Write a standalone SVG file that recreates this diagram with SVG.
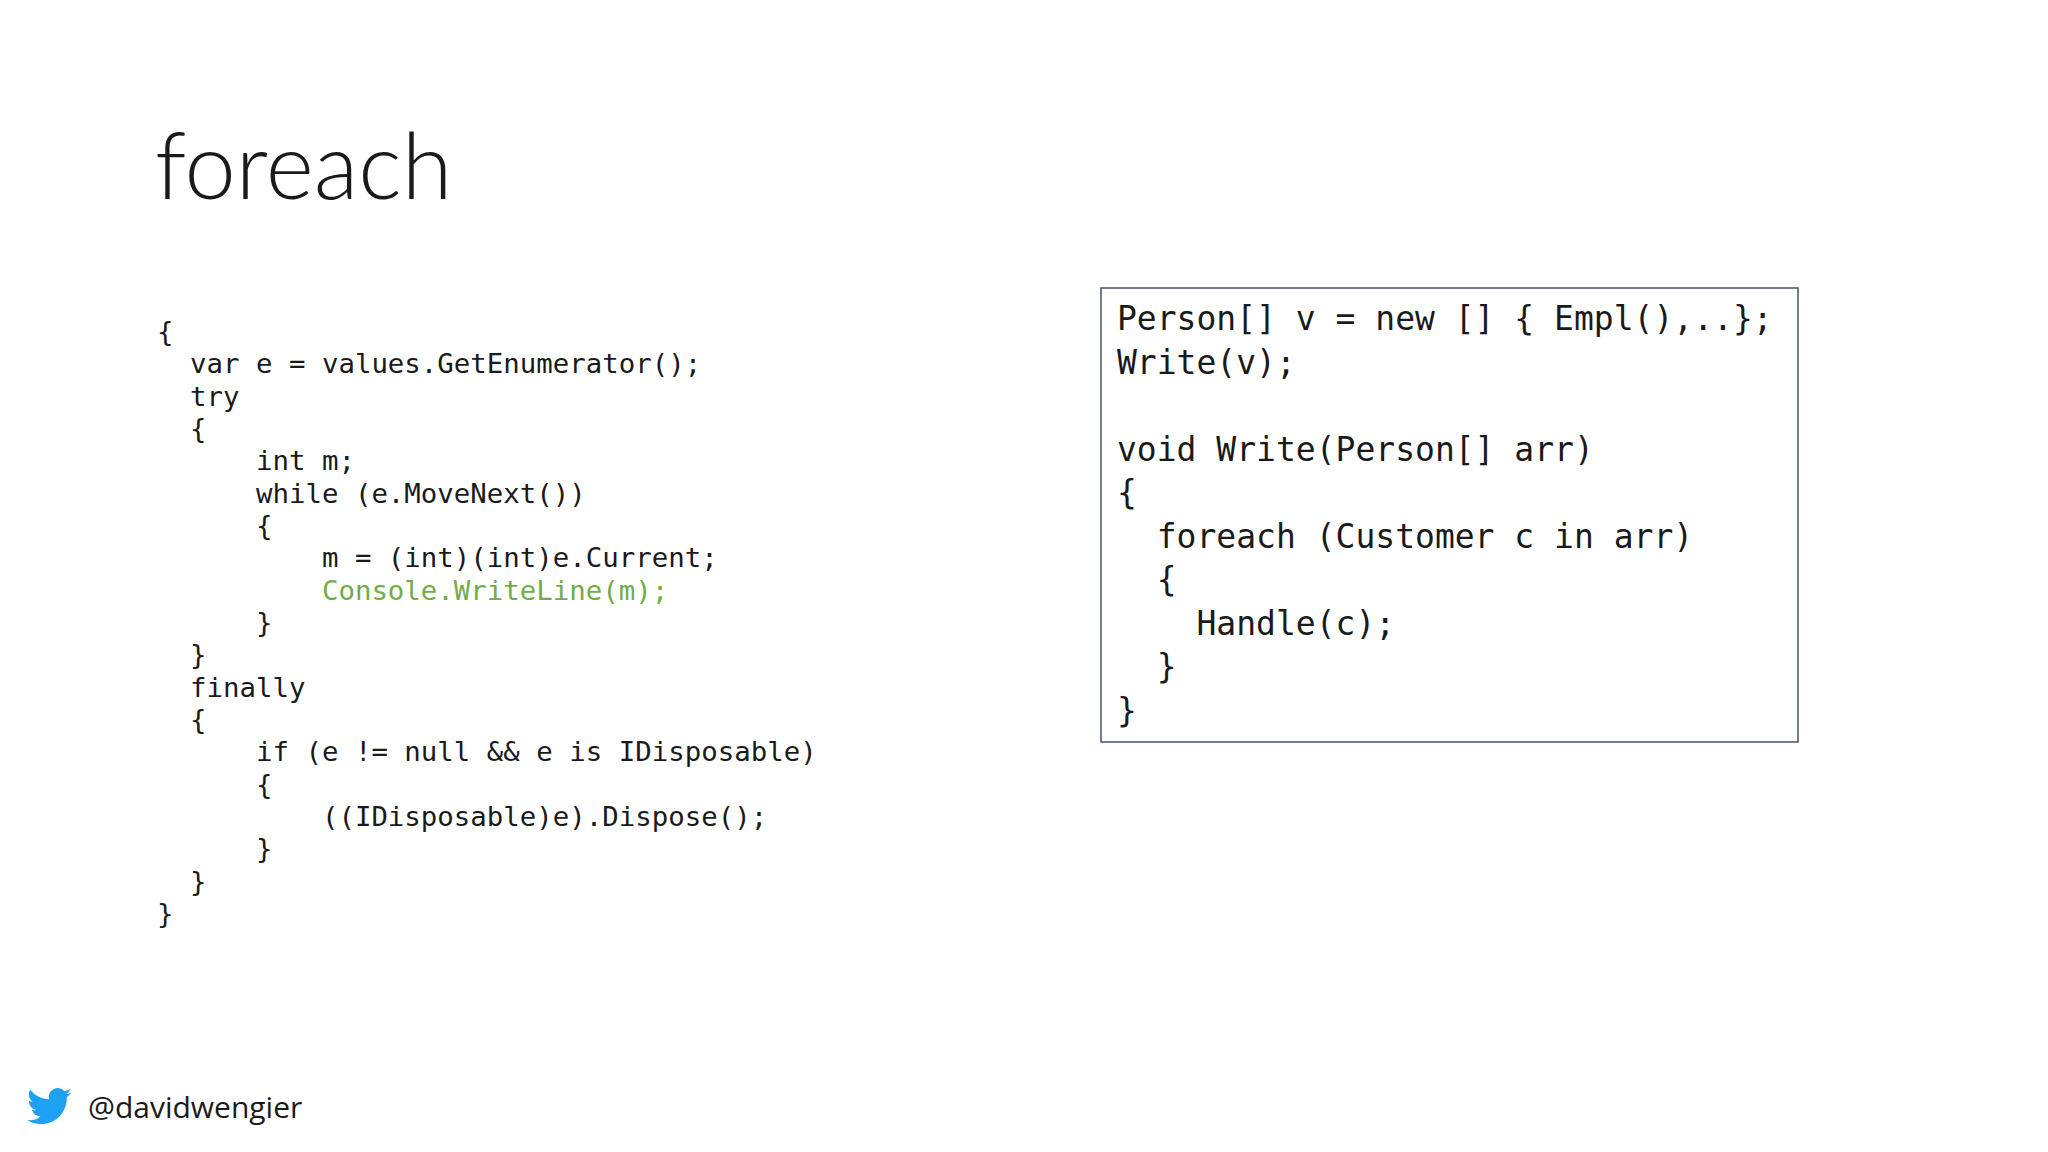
<svg xmlns="http://www.w3.org/2000/svg" width="2048" height="1152" viewBox="0 0 2048 1152">
<style>
.c{font-family:"DejaVu Sans Mono","Liberation Mono",monospace;font-size:27.4px;fill:#1a1a1a;white-space:pre}
.r{font-family:"DejaVu Sans Mono","Liberation Mono",monospace;font-size:33px;fill:#1a1a1a;white-space:pre}
</style>
<rect width="2048" height="1152" fill="#ffffff"/>
<g id="title"><text x="155" y="199" font-family="Lato,'Open Sans',sans-serif" font-weight="300" font-size="92" fill="#1a1a1a">foreach</text></g>
<g id="left-code" xml:space="preserve">
<text class="c" x="157" y="341">{</text>
<text class="c" x="157" y="373">  var e = values.GetEnumerator();</text>
<text class="c" x="157" y="406">  try</text>
<text class="c" x="157" y="438">  {</text>
<text class="c" x="157" y="470">      int m;</text>
<text class="c" x="157" y="503">      while (e.MoveNext())</text>
<text class="c" x="157" y="535">      {</text>
<text class="c" x="157" y="567">          m = (int)(int)e.Current;</text>
<text class="c" x="157" y="600" style="fill:#70ad47">          Console.WriteLine(m);</text>
<text class="c" x="157" y="632">      }</text>
<text class="c" x="157" y="664">  }</text>
<text class="c" x="157" y="697">  finally</text>
<text class="c" x="157" y="729">  {</text>
<text class="c" x="157" y="761">      if (e != null &amp;&amp; e is IDisposable)</text>
<text class="c" x="157" y="794">      {</text>
<text class="c" x="157" y="826">          ((IDisposable)e).Dispose();</text>
<text class="c" x="157" y="858">      }</text>
<text class="c" x="157" y="891">  }</text>
<text class="c" x="157" y="923">}</text>
</g>
<g id="right-box" xml:space="preserve">
<rect x="1101" y="288" width="697" height="454" fill="#ffffff" stroke="#44546a" stroke-width="1.5"/>
<text class="r" x="1117" y="330">Person[] v = new [] { Empl(),..};</text>
<text class="r" x="1117" y="374">Write(v);</text>
<text class="r" x="1117" y="461">void Write(Person[] arr)</text>
<text class="r" x="1117" y="504">{</text>
<text class="r" x="1117" y="548">  foreach (Customer c in arr)</text>
<text class="r" x="1117" y="591">  {</text>
<text class="r" x="1117" y="635">    Handle(c);</text>
<text class="r" x="1117" y="678">  }</text>
<text class="r" x="1117" y="722">}</text>
</g>
<g id="footer">
<path transform="translate(27,1084) scale(1.85)" fill="#1da1f2" d="M24 4.6a9.8 9.8 0 0 1-2.8.8 4.9 4.9 0 0 0 2.2-2.7 9.8 9.8 0 0 1-3.1 1.2A4.9 4.9 0 0 0 11.9 8.3 14 14 0 0 1 1.7 3.1a4.9 4.9 0 0 0 1.5 6.6 4.9 4.9 0 0 1-2.2-.6v.1a4.9 4.9 0 0 0 3.9 4.8 4.9 4.9 0 0 1-2.2.1 4.9 4.9 0 0 0 4.6 3.4A9.9 9.9 0 0 1 0 19.5 14 14 0 0 0 7.5 21.7c9.1 0 14-7.5 14-14v-.6A10 10 0 0 0 24 4.6z"/>
<text x="88" y="1118" font-family="'Open Sans',Lato,sans-serif" font-size="30" fill="#1a1a1a">@davidwengier</text>
</g>
</svg>
